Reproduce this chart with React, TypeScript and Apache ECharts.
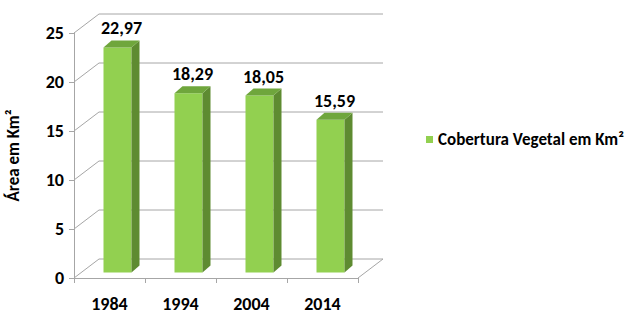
import React, { useEffect, useRef } from "react";
import * as echarts from "echarts";

const categories = ["1984", "1994", "2004", "2014"];
const values = [22.97, 18.29, 18.05, 15.59];
const valueLabels = ["22,97", "18,29", "18,05", "15,59"];
const yTicks = [0, 5, 10, 15, 20, 25];
const seriesName = "Cobertura Vegetal em Km²";
const yTitle = "Área em Km²";

const FONT = "Carlito, Calibri, Lato, 'Open Sans', sans-serif";
const DX = 25;
const DY = -19;
const GRID = "#A6A6A6";

export default function App() {
  const ref = useRef<HTMLDivElement>(null);
  useEffect(() => {
    if (!ref.current) return;
    const chart = echarts.init(ref.current, null, { renderer: "svg" });
    chart.setOption({
      animation: false,
      grid: { left: 74, right: 275, top: 33, bottom: 40 },
      legend: {
        left: 421,
        top: 126,
        icon: "rect",
        itemWidth: 7,
        itemHeight: 7,
        itemGap: 5,
        textStyle: { fontFamily: FONT, fontSize: 17, fontWeight: "bold", color: "#000" },
        data: [seriesName],
      },
      xAxis: {
        type: "category",
        data: categories,
        axisLine: { show: true, lineStyle: { color: GRID } },
        axisTick: { show: true, length: 5, lineStyle: { color: GRID } },
        axisLabel: { margin: 17, fontFamily: FONT, fontSize: 18, fontWeight: "bold", color: "#000" },
        splitLine: { show: false },
      },
      yAxis: {
        type: "value",
        min: 0,
        max: 25,
        interval: 5,
        name: yTitle,
        nameLocation: "middle",
        nameGap: 52,
        nameTextStyle: { fontFamily: FONT, fontSize: 17, fontWeight: "bold", color: "#000" },
        axisLine: { show: true, lineStyle: { color: GRID } },
        axisTick: { show: true, length: 5, lineStyle: { color: GRID } },
        axisLabel: { margin: 10, fontFamily: FONT, fontSize: 18, fontWeight: "bold", color: "#000" },
        splitLine: { show: false },
      },
      series: [
        {
          type: "custom",
          name: "walls",
          silent: true,
          z: 1,
          data: yTicks.map((t) => [0, t]),
          renderItem: (params: any, api: any) => {
            const v = api.value(1);
            const c = api.coord([0, v]);
            const bw = api.size([1, 0])[0];
            const left = c[0] - bw / 2;
            const right = left + bw * categories.length;
            const y = c[1];
            const children: any[] = [
              { type: "line", shape: { x1: left, y1: y, x2: left + DX, y2: y + DY }, style: { stroke: GRID, lineWidth: 1 } },
              { type: "line", shape: { x1: left + DX, y1: y + DY, x2: right + DX, y2: y + DY }, style: { stroke: GRID, lineWidth: 1 } },
            ];
            if (v === 0) {
              children.push({ type: "line", shape: { x1: right, y1: y, x2: right + DX, y2: y + DY }, style: { stroke: GRID, lineWidth: 1 } });
            }
            return { type: "group", children };
          },
        },
        {
          type: "custom",
          name: seriesName,
          z: 2,
          itemStyle: { color: "#92D050" },
          data: values.map((v, i) => [i, v]),
          renderItem: (params: any, api: any) => {
            const i = api.value(0);
            const v = api.value(1);
            const top = api.coord([i, v]);
            const base = api.coord([i, 0]);
            const barW = 28;
            const fy = -5.5;
            const sx = 8;
            const sy = -7;
            const x0 = top[0] - 6;
            const yT = top[1] + fy;
            const yB = base[1] + fy;
            const x1 = x0 + barW;
            return {
              type: "group",
              children: [
                { type: "rect", shape: { x: x0, y: yT, width: barW, height: yB - yT }, style: { fill: "#92D050" } },
                { type: "polygon", shape: { points: [[x1, yT], [x1 + sx, yT + sy], [x1 + sx, yB + sy], [x1, yB]] }, style: { fill: "#5E8B31" } },
                { type: "polygon", shape: { points: [[x0, yT], [x0 + sx, yT + sy], [x1 + sx, yT + sy], [x1, yT]] }, style: { fill: "#6FA63C" } },
                {
                  type: "text",
                  style: {
                    x: x0 + barW / 2 + sx / 2,
                    y: yT + sy - 3,
                    text: valueLabels[i],
                    align: "center",
                    verticalAlign: "bottom",
                    font: `bold 18px ${FONT}`,
                    fill: "#000",
                  },
                },
              ],
            };
          },
        },
      ],
    });
    return () => chart.dispose();
  }, []);
  return <div ref={ref} style={{ width: 633, height: 318, position: "absolute", left: 0, top: 0 }} />;
}
